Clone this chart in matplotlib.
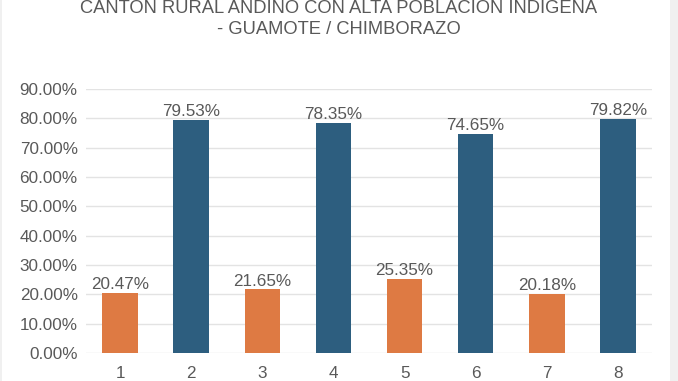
import matplotlib
matplotlib.use("Agg")
import matplotlib.pyplot as plt
from matplotlib.patches import Rectangle

categories = ["1", "2", "3", "4", "5", "6", "7", "8"]
values = [20.47, 79.53, 21.65, 78.35, 25.35, 74.65, 20.18, 79.82]
labels = ["20.47%", "79.53%", "21.65%", "78.35%", "25.35%", "74.65%", "20.18%", "79.82%"]
yticks = [0, 10, 20, 30, 40, 50, 60, 70, 80, 90]
title = "CANTON RURAL ANDINO CON ALTA POBLACION INDIGENA\n- GUAMOTE / CHIMBORAZO"

orange = "#DE7A43"
blue = "#2D5E7F"
colors = [orange if i % 2 == 0 else blue for i in range(len(values))]
txt = "#595959"

plt.rcParams['font.family'] = ['Liberation Sans', 'DejaVu Sans']

fig = plt.figure(figsize=(6.78, 3.81), dpi=100)
fig.patch.set_facecolor("white")
fig.patches.append(Rectangle((0.988, 0), 0.012, 1, transform=fig.transFigure,
                             facecolor="#f0f0f0", edgecolor="none", zorder=-1))
fig.patches.append(Rectangle((0, 0), 0.003, 1, transform=fig.transFigure,
                             facecolor="#f0f0f0", edgecolor="none", zorder=-1))
ax = fig.add_axes([86/678, 1-353/381, (652-86)/678, (353-89)/381])
x = list(range(1, len(values)+1))
ax.bar(x, values, width=0.5, color=colors, zorder=3)
for xi, v, l in zip(x, values, labels):
    ax.text(xi, v + 0.3, l, ha="center", va="bottom", fontsize=12.3, color=txt, zorder=4)
ax.set_xlim(0.52, 8.48)
ax.set_ylim(0, 90)
ax.set_yticks(yticks)
ax.set_yticklabels([f"{t:.2f}%" for t in yticks])
ax.set_xticks(x)
ax.set_xticklabels(categories)
ax.tick_params(axis="both", length=0, labelsize=12.3, labelcolor=txt)
ax.tick_params(axis="y", pad=6)
ax.tick_params(axis="x", pad=9)
ax.grid(axis="y", color="#e3e3e3", linewidth=1, zorder=0)
for s in ax.spines.values():
    s.set_visible(False)
fig.text(0.5, 1 - 19/381, title, ha="center", va="center", fontsize=13.2,
         color=txt, linespacing=1.3)
fig.savefig("out.png", dpi=100)
